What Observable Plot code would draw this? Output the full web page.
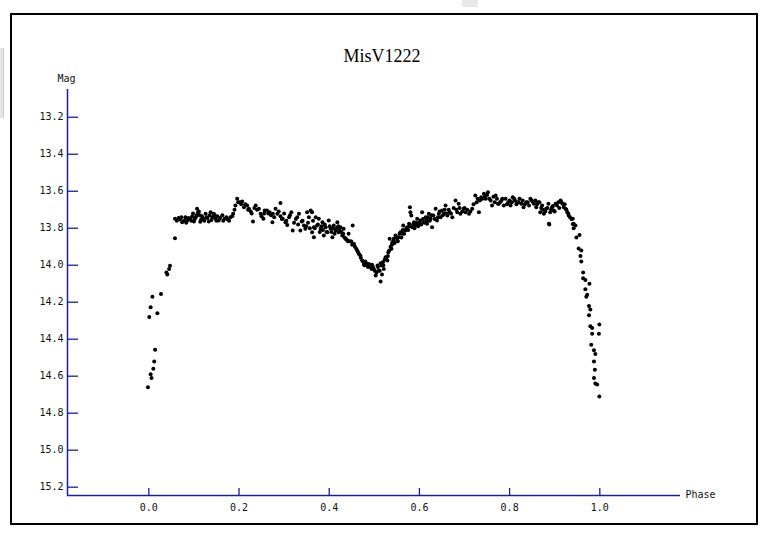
<!DOCTYPE html>
<html>
<head>
<meta charset="utf-8">
<script src="https://cdn.jsdelivr.net/npm/d3@7"></script>
<script src="https://cdn.jsdelivr.net/npm/@observablehq/plot@0.6"></script>
<style>
  html, body { margin: 0; padding: 0; background: #fff; }
  #wrap { position: relative; width: 768px; height: 537px; overflow: hidden; }
  #wrap svg { display: block; }
  #border { position: absolute; left: 10px; top: 13px; width: 744px; height: 508px; border: 2px solid #000; pointer-events: none; }
  #ghostL { position: absolute; left: 0; top: 48px; width: 3px; height: 70px; background: #e4e4e4; border-right: 1px solid #ccc; }
  #ghostT { position: absolute; left: 462px; top: 0; width: 16px; height: 7px; background: #e8e8e8; }
</style>
</head>
<body>
<div id="wrap"><div id="ghostL"></div><div id="ghostT"></div><div id="border"></div></div>
<script>
// ---- data (phase, magnitude) ----
const title = "MisV1222";
const xTicks = [0.0, 0.2, 0.4, 0.6, 0.8, 1.0];
const xTickLabels = ["0.0", "0.2", "0.4", "0.6", "0.8", "1.0"];
const yTicks = [13.2, 13.4, 13.6, 13.8, 14.0, 14.2, 14.4, 14.6, 14.8, 15.0, 15.2];
const yTickLabels = ["13.2", "13.4", "13.6", "13.8", "14.0", "14.2", "14.4", "14.6", "14.8", "15.0", "15.2"];

const ingressPoints = [
  [-0.002,14.66],[0.001,14.28],[0.004,14.59],[0.004,14.227],[0.006,14.61],[0.008,14.17],
  [0.010,14.56],[0.012,14.52],[0.014,14.457],[0.019,14.26],[0.027,14.155],[0.039,14.04],
  [0.041,14.05],[0.045,14.02],[0.047,14.003],[0.058,13.854]
];
const maxOnePoints = [
  [0.058,13.749],[0.062,13.76],[0.066,13.745],[0.069,13.753],[0.072,13.74],[0.074,13.768],
  [0.078,13.76],[0.081,13.74],[0.083,13.77],[0.085,13.758],[0.088,13.745],[0.092,13.75],
  [0.094,13.76],[0.096,13.737],[0.098,13.72],[0.100,13.764],[0.102,13.75],[0.104,13.74],
  [0.106,13.73],[0.107,13.695],[0.109,13.715],[0.111,13.71],[0.113,13.73],[0.114,13.765],
  [0.116,13.753],[0.118,13.735],[0.121,13.749],[0.123,13.76],[0.126,13.722],[0.128,13.74],
  [0.130,13.745],[0.133,13.764],[0.135,13.73],[0.137,13.714],[0.139,13.755],[0.141,13.74],
  [0.144,13.722],[0.146,13.73],[0.148,13.749],[0.150,13.76],[0.152,13.735],[0.155,13.758],
  [0.158,13.745],[0.163,13.73],[0.165,13.76],[0.168,13.749],[0.172,13.74],[0.175,13.753],
  [0.178,13.76],[0.181,13.74],[0.185,13.735],[0.187,13.722],[0.190,13.70],[0.192,13.677],
  [0.196,13.641],[0.198,13.66],[0.202,13.659],[0.205,13.67],[0.207,13.656],[0.211,13.686],
  [0.214,13.67],[0.218,13.677],[0.220,13.70],[0.222,13.695],[0.226,13.71],[0.228,13.72],
  [0.231,13.764],[0.234,13.69],[0.237,13.677],[0.240,13.70],[0.244,13.695],[0.248,13.722],
  [0.250,13.735],[0.254,13.749],[0.256,13.72],[0.257,13.704],[0.262,13.704],[0.265,13.72],
  [0.268,13.714],[0.271,13.73],[0.274,13.768],[0.275,13.722],[0.278,13.74],[0.281,13.695],
  [0.285,13.722],[0.288,13.71],[0.292,13.663],[0.292,13.735],[0.295,13.75],[0.297,13.749],
  [0.300,13.72],[0.303,13.768],[0.305,13.76],[0.307,13.782],[0.311,13.74],[0.313,13.73],
  [0.316,13.714],[0.319,13.812],[0.322,13.77],[0.326,13.75],[0.329,13.74],[0.331,13.78],
  [0.333,13.722],[0.336,13.812],[0.339,13.764],[0.341,13.76],[0.344,13.785],[0.347,13.803],
  [0.349,13.79],[0.351,13.714],[0.353,13.77],[0.355,13.74],[0.357,13.80],[0.359,13.704],
  [0.362,13.714],[0.362,13.822],[0.364,13.76],[0.366,13.795],[0.366,13.849],[0.368,13.80],
  [0.370,13.74],[0.373,13.785],[0.375,13.78],[0.377,13.749],[0.379,13.82],[0.381,13.803],
  [0.383,13.79],[0.385,13.768],[0.386,13.81],[0.388,13.84],[0.390,13.78],[0.392,13.795],
  [0.394,13.82],[0.396,13.822],[0.399,13.758],[0.401,13.79],[0.403,13.803],[0.405,13.82],
  [0.407,13.849],[0.408,13.80],[0.410,13.785],[0.412,13.83],[0.414,13.812],[0.416,13.80],
  [0.418,13.768],[0.420,13.79],[0.421,13.822],[0.423,13.81],[0.425,13.795],[0.427,13.82],
  [0.429,13.84],[0.431,13.83],[0.432,13.803],[0.434,13.85],[0.436,13.857],[0.438,13.86],
  [0.440,13.866],[0.442,13.87],[0.443,13.83],[0.446,13.87],[0.449,13.872]
];
const minimumPoints = [
  [0.451,13.89],[0.452,13.785],[0.455,13.885],[0.457,13.90],[0.460,13.911],[0.462,13.92],
  [0.464,13.93],[0.466,13.94],[0.469,13.948],[0.470,13.96],[0.473,13.975],[0.475,13.98],
  [0.477,13.993],[0.478,14.00],[0.480,13.98],[0.482,13.99],[0.484,14.002],[0.486,14.01],
  [0.488,13.993],[0.490,14.00],[0.492,14.011],[0.494,14.02],[0.495,13.998],[0.497,14.01],
  [0.499,14.02],[0.501,14.03],[0.503,14.056],[0.505,14.04],[0.507,14.002],[0.508,14.01],
  [0.510,14.029],[0.512,14.03],[0.514,14.088],[0.514,13.99],[0.516,14.002],[0.517,14.05],
  [0.519,13.984],[0.520,14.00],[0.521,14.02],[0.523,13.97],[0.525,13.957],[0.527,13.96],
  [0.529,13.975],[0.530,13.95],[0.531,13.93],[0.533,13.92],[0.534,13.857],[0.536,13.90],
  [0.538,13.911],[0.539,13.89],[0.540,13.885],[0.540,13.876],[0.542,13.87],[0.543,13.857],
  [0.545,13.88],[0.547,13.84],[0.549,13.85],[0.551,13.866],[0.552,13.87],[0.554,13.849],
  [0.556,13.83],[0.558,13.822],[0.560,13.85],[0.562,13.83],[0.563,13.81],[0.564,13.785],
  [0.566,13.83],[0.569,13.812],[0.571,13.80],[0.573,13.795],[0.575,13.81],[0.577,13.776],
  [0.578,13.79],[0.579,13.686],[0.580,13.714],[0.582,13.731],[0.584,13.795],[0.586,13.78],
  [0.588,13.768],[0.589,13.80],[0.591,13.785],[0.593,13.77],[0.595,13.749],[0.597,13.79],
  [0.599,13.776],[0.600,13.77]
];
const maxTwoPoints = [
  [0.602,13.758],[0.604,13.78],[0.606,13.714],[0.608,13.75],[0.610,13.768],[0.612,13.77],
  [0.614,13.74],[0.616,13.76],[0.617,13.776],[0.619,13.74],[0.621,13.722],[0.623,13.76],
  [0.625,13.749],[0.627,13.73],[0.628,13.795],[0.631,13.731],[0.634,13.75],[0.636,13.695],
  [0.639,13.758],[0.641,13.74],[0.643,13.722],[0.645,13.71],[0.647,13.74],[0.650,13.704],
  [0.652,13.73],[0.654,13.722],[0.656,13.70],[0.658,13.677],[0.660,13.72],[0.662,13.731],
  [0.665,13.70],[0.667,13.714],[0.670,13.72],[0.673,13.74],[0.676,13.69],[0.680,13.65],
  [0.682,13.70],[0.684,13.714],[0.687,13.668],[0.689,13.69],[0.691,13.722],[0.695,13.71],
  [0.698,13.695],[0.700,13.69],[0.702,13.714],[0.706,13.70],[0.710,13.722],[0.713,13.71],
  [0.717,13.695],[0.720,13.67],[0.724,13.623],[0.727,13.66],[0.729,13.641],[0.732,13.714],
  [0.734,13.65],[0.737,13.632],[0.740,13.64],[0.743,13.614],[0.745,13.63],[0.747,13.641],
  [0.750,13.62],[0.752,13.605],[0.755,13.64],[0.758,13.65],[0.761,13.677],[0.764,13.63],
  [0.767,13.66],[0.769,13.623],[0.772,13.641],[0.774,13.668],[0.776,13.668],[0.779,13.66],
  [0.782,13.65],[0.784,13.64],[0.787,13.677],[0.791,13.641],[0.794,13.67],[0.797,13.659],
  [0.800,13.65],[0.802,13.677],[0.805,13.66],[0.807,13.632],[0.810,13.64],[0.812,13.65],
  [0.815,13.67],[0.817,13.659],[0.820,13.66],[0.822,13.641],[0.826,13.668],[0.829,13.65],
  [0.831,13.686],[0.834,13.67],[0.837,13.659],[0.840,13.66],[0.843,13.677],[0.846,13.64],
  [0.849,13.65],[0.852,13.66],[0.854,13.668],[0.857,13.65],[0.859,13.686],[0.861,13.67],
  [0.863,13.659],[0.866,13.66],[0.868,13.714],[0.870,13.69],[0.872,13.677],[0.874,13.70],
  [0.876,13.722],[0.879,13.71],[0.881,13.695],[0.884,13.69],[0.886,13.668],[0.887,13.776],
  [0.888,13.78],[0.890,13.714],[0.892,13.70],[0.894,13.686],[0.896,13.68],[0.898,13.704],
  [0.900,13.71],[0.902,13.668],[0.905,13.677],[0.908,13.66],[0.910,13.69],[0.913,13.65],
  [0.915,13.66],[0.917,13.668],[0.920,13.686],[0.922,13.67],[0.924,13.695],[0.926,13.70],
  [0.928,13.714],[0.930,13.72],[0.931,13.731],[0.934,13.74],[0.937,13.75]
];
const egressPoints = [
  [0.940,13.749],[0.940,13.777],[0.942,13.776],[0.942,13.80],[0.946,13.785],[0.948,13.85],
  [0.953,13.91],[0.955,13.836],[0.957,13.95],[0.959,13.92],[0.959,13.98],[0.963,14.04],
  [0.963,14.07],[0.968,14.08],[0.968,14.13],[0.970,14.17],[0.972,14.16],[0.976,14.22],
  [0.976,14.27],[0.977,14.10],[0.979,14.24],[0.979,14.33],[0.981,14.43],[0.983,14.34],
  [0.983,14.37],[0.987,14.46],[0.987,14.52],[0.987,14.61],[0.989,14.565],[0.990,14.48],
  [0.990,14.64],[0.994,14.645],[0.998,14.37],[0.999,14.32],[0.999,14.71]
];

const points = [...ingressPoints, ...maxOnePoints, ...minimumPoints, ...maxTwoPoints, ...egressPoints]
  .map(([p, m]) => ({phase: p, mag: m}));

// ---- chart ----
const axisColor = "#1c1ca4";
const xDom = [-0.1803, 1.1789];
const yDom = [13.05, 15.245];
const W = 768, H = 537, mL = 67, mR = 88, mT = 89, mB = 42;
const frameW = W - mL - mR, frameH = H - mT - mB;
const mono = "'DejaVu Sans Mono', 'Liberation Mono', monospace";

const chart = Plot.plot({
  width: W, height: H,
  marginLeft: mL, marginRight: mR, marginTop: mT, marginBottom: mB,
  style: {background: "transparent", overflow: "visible"},
  x: {domain: xDom, axis: null},
  y: {domain: yDom, reverse: true, axis: null},
  marks: [
    Plot.ruleX([xDom[0]], {stroke: axisColor, strokeWidth: 1.5}),
    Plot.ruleY([yDom[1]], {stroke: axisColor, strokeWidth: 1.5}),
    Plot.tickY(yTicks, {y: d => d, stroke: axisColor, strokeWidth: 1.3, insetRight: frameW - 11}),
    Plot.tickX(xTicks, {x: d => d, stroke: axisColor, strokeWidth: 1.3, insetTop: frameH - 7}),
    Plot.text(yTicks, {x: xDom[0], y: d => d, text: (d, i) => yTickLabels[i], textAnchor: "end", dx: -4,
      fontFamily: mono, fontSize: 10, fill: "#111"}),
    Plot.text(xTicks, {x: d => d, y: yDom[1], text: (d, i) => xTickLabels[i], dy: 12,
      fontFamily: mono, fontSize: 10, fill: "#111"}),
    Plot.dot(points, {x: "phase", y: "mag", r: 2, fill: "#000", stroke: "none"}),
    Plot.text([title], {frameAnchor: "top", dy: -40, dx: 8, text: d => d,
      fontFamily: "'Liberation Serif', serif", fontSize: 18, fill: "#000"}),
    Plot.text(["Mag"], {x: xDom[0], y: yDom[0], dy: -11, dx: -1, text: d => d,
      fontFamily: mono, fontSize: 10, fill: "#111"}),
    Plot.text(["Phase"], {x: xDom[1], y: yDom[1], dx: 5, dy: -1, textAnchor: "start", text: d => d,
      fontFamily: mono, fontSize: 10, fill: "#111"})
  ]
});
document.getElementById("wrap").prepend(chart);
</script>
</body>
</html>
